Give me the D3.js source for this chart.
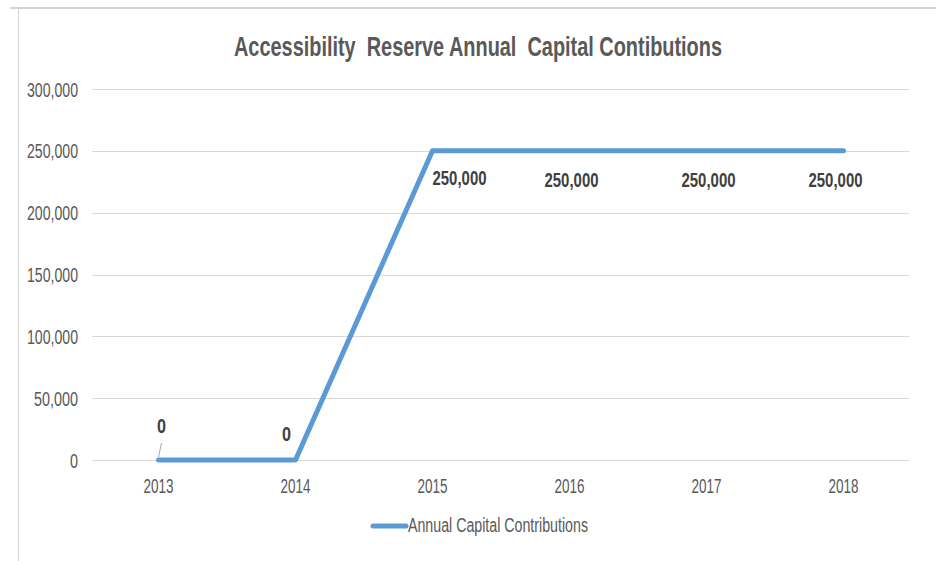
<!DOCTYPE html>
<html>
<head>
<meta charset="utf-8">
<script src="https://cdn.jsdelivr.net/npm/d3@7"></script>
<style>
  html, body { margin: 0; padding: 0; background: #fff; }
  svg { display: block; }
</style>
</head>
<body>
<svg id="chart" width="936" height="561"></svg>
<script>
const years = ["2013", "2014", "2015", "2016", "2017", "2018"];
const contributions = [0, 0, 250000, 250000, 250000, 250000];
const yTicks = [0, 50000, 100000, 150000, 200000, 250000, 300000];
const seriesName = "Annual Capital Contributions";
const titleText = "Accessibility  Reserve Annual  Capital Contibutions";
// data label offsets (layout only, px relative to point)
const labelDx = [3, -9, 27, 2, 2, -8];
const labelDy = [-32, -24, 29, 31, 31, 31];

const svg = d3.select("#chart");
const W = 936, H = 561;

const fontNarrow = "'Liberation Sans Narrow', 'Arial Narrow', 'Liberation Sans', sans-serif";
const textColor = "#595959";

// chart border (partially visible)
svg.append("line").attr("x1", 10).attr("x2", W).attr("y1", 8).attr("y2", 8)
  .attr("stroke", "#d4d4d4").attr("stroke-width", 2);
svg.append("line").attr("x1", 18.5).attr("x2", 18.5).attr("y1", 8).attr("y2", H)
  .attr("stroke", "#d4d4d4").attr("stroke-width", 1);

const x = d3.scaleBand().domain(years).range([90, 912]);
const y = d3.scaleLinear().domain([0, 300000]).range([460, 89]);

// gridlines
const grid = svg.append("g");
grid.selectAll("line").data(yTicks).join("line")
  .attr("x1", 92).attr("x2", 909)
  .attr("y1", d => Math.round(y(d)) + 0.5).attr("y2", d => Math.round(y(d)) + 0.5)
  .attr("stroke", "#d9d9d9").attr("stroke-width", 1);

// y axis labels
const fmt = d3.format(",");
const yAxis = d3.axisLeft(y).tickValues(yTicks).tickFormat(d => fmt(d)).tickSize(0).tickPadding(0);
const yg = svg.append("g").attr("transform", "translate(78,0)").call(yAxis);
yg.select(".domain").remove();
yg.selectAll("text")
  .attr("font-family", fontNarrow).attr("font-size", 20).attr("fill", textColor)
  .attr("dy", "0.35em")
  .each(function(d) {
    const s = fmt(d);
    const len = s.length === 1 ? 8 : (s.length === 6 ? 44 : 51);
    d3.select(this).attr("textLength", len).attr("lengthAdjust", "spacingAndGlyphs");
  });

// x axis labels
const xAxis = d3.axisBottom(x).tickSize(0).tickPadding(0);
const xg = svg.append("g").attr("transform", "translate(0,479)").call(xAxis);
xg.select(".domain").remove();
xg.selectAll("text")
  .attr("font-family", fontNarrow).attr("font-size", 20).attr("fill", textColor)
  .attr("dy", "0.71em")
  .attr("textLength", 30).attr("lengthAdjust", "spacingAndGlyphs");

// line
const cx = d => x(d) + x.bandwidth() / 2;
const line = d3.line().x((d, i) => cx(years[i])).y(d => y(d));
svg.append("path").datum(contributions)
  .attr("d", line)
  .attr("fill", "none")
  .attr("stroke", "#5b9bd5")
  .attr("stroke-width", 5)
  .attr("stroke-linejoin", "round")
  .attr("stroke-linecap", "round");

// leader line for first label
svg.append("line")
  .attr("x1", cx(years[0])).attr("y1", y(contributions[0]) - 3)
  .attr("x2", cx(years[0]) + labelDx[0]).attr("y2", y(contributions[0]) + labelDy[0] + 15)
  .attr("stroke", "#a6a6a6").attr("stroke-width", 1);

// data labels
svg.append("g").selectAll("text").data(contributions).join("text")
  .attr("x", (d, i) => cx(years[i]) + labelDx[i])
  .attr("y", (d, i) => y(d) + labelDy[i])
  .attr("text-anchor", "middle")
  .attr("dominant-baseline", "middle")
  .attr("font-family", fontNarrow).attr("font-size", 20).attr("font-weight", "bold")
  .attr("fill", "#404040")
  .attr("textLength", d => d === 0 ? 9 : 54)
  .attr("lengthAdjust", "spacingAndGlyphs")
  .text(d => fmt(d));

// title
svg.append("text")
  .attr("x", 478).attr("y", 56)
  .attr("text-anchor", "middle")
  .attr("font-family", fontNarrow).attr("font-size", 28).attr("font-weight", "bold")
  .attr("fill", textColor)
  .attr("textLength", 488).attr("lengthAdjust", "spacingAndGlyphs")
  .style("white-space", "pre")
  .text(titleText);

// legend
const lg = svg.append("g");
lg.append("line").attr("x1", 373).attr("x2", 406).attr("y1", 526).attr("y2", 526)
  .attr("stroke", "#5b9bd5").attr("stroke-width", 5).attr("stroke-linecap", "round");
lg.append("text").attr("x", 408).attr("y", 527)
  .attr("dominant-baseline", "middle")
  .attr("font-family", fontNarrow).attr("font-size", 20).attr("fill", textColor)
  .attr("textLength", 180).attr("lengthAdjust", "spacingAndGlyphs")
  .text(seriesName);
</script>
</body>
</html>
